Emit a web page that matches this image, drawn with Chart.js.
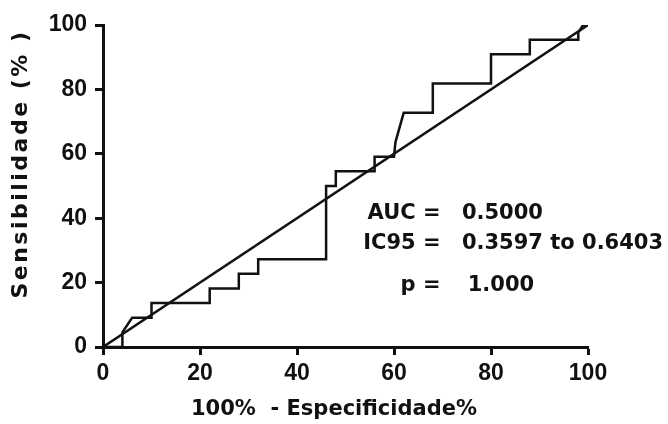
<!DOCTYPE html>
<html>
<head>
<meta charset="utf-8">
<script src="https://cdn.jsdelivr.net/npm/chart.js@4.4.1/dist/chart.umd.min.js"></script>
<style>
  html, body { margin: 0; padding: 0; background: #fff; }
  canvas { display: block; }
</style>
</head>
<body>
<canvas id="rocChart" width="668" height="424"></canvas>
<script>
// ROC curve (100% - specificity vs sensitivity)
const fpr = [0, 4, 4, 6, 10, 10, 22, 22, 28, 28, 32, 32, 46, 46, 48, 48, 56, 56, 60, 60.3, 62, 68, 68, 80, 80, 88, 88, 98, 98, 99, 100];
const sens = [0, 0, 4.55, 9.09, 9.09, 13.64, 13.64, 18.18, 18.18, 22.73, 22.73, 27.27, 27.27, 50, 50, 54.55, 54.55, 59.09, 59.09, 63.64, 72.73, 72.73, 81.82, 81.82, 90.91, 90.91, 95.45, 95.45, 97.7, 100, 100];
const diagX = [0, 100];
const diagY = [0, 100];
const xTicks = [0, 20, 40, 60, 80, 100];
const yTicks = [0, 20, 40, 60, 80, 100];
const xTitle = '100%  - Especificidade%';
const yTitle = 'Sensibilidade (% )';
const statLabels = ['AUC =', 'IC95 =', 'p ='];
const statValues = ['0.5000', '0.3597 to 0.6403', '1.000'];

const ink = '#111';
const tickFont = { family: '"Liberation Sans Narrow", "Arial Narrow", "Liberation Sans", sans-serif', size: 23, weight: 'bold' };

function toPoints(xs, ys) {
    return xs.map((v, i) => ({ x: v, y: ys[i] }));
}

// titles and the AUC box are drawn here so they sit where the original has them
const textPlugin = {
    id: 'rocText',
    afterDraw(chart) {
        const { ctx, scales } = chart;
        const x = scales.x, y = scales.y;
        ctx.save();
        ctx.fillStyle = ink;
        ctx.textBaseline = 'middle';

        ctx.font = 'bold 21px "DejaVu Sans", sans-serif';
        ctx.textAlign = 'center';
        ctx.fillText(xTitle, 334, 410);

        ctx.save();
        ctx.translate(21, 164);
        ctx.rotate(-Math.PI / 2);
        ctx.font = 'bold 22px "DejaVu Sans", sans-serif';
        ctx.letterSpacing = '2.5px';
        ctx.fillText(yTitle, 0, 0);
        ctx.restore();

        // stats block, placed in data units
        const rowY = [41.6, 32, 19];
        const valX = [74, 74, 75.2];
        ctx.font = 'bold 21px "DejaVu Sans", sans-serif';
        statLabels.forEach((lab, i) => {
            ctx.textAlign = 'right';
            ctx.fillText(lab, x.getPixelForValue(69.6), y.getPixelForValue(rowY[i]));
            ctx.textAlign = 'left';
            ctx.fillText(statValues[i], x.getPixelForValue(valX[i]), y.getPixelForValue(rowY[i]));
        });
        ctx.restore();
    }
};

const axisCommon = {
    type: 'linear',
    min: 0,
    max: 100,
    border: { display: true, color: ink, width: 3 },
    grid: {
        display: true,
        drawOnChartArea: false,
        drawTicks: true,
        tickLength: 8,
        tickColor: ink,
        tickWidth: 3,
    },
    title: { display: false },
};

new Chart(document.getElementById('rocChart').getContext('2d'), {
    type: 'line',
    data: {
        datasets: [{
            label: 'ROC',
            data: toPoints(fpr, sens),
            borderColor: ink,
            borderWidth: 2.5,
            pointRadius: 0,
            tension: 0,
            fill: false,
        }, {
            label: 'Referência',
            data: toPoints(diagX, diagY),
            borderColor: ink,
            borderWidth: 2.5,
            pointRadius: 0,
            tension: 0,
            fill: false,
        }]
    },
    options: {
        responsive: false,
        animation: false,
        layout: { padding: { left: 0, right: 80, top: 25, bottom: 0 } },
        plugins: {
            legend: { display: false },
            tooltip: { enabled: false },
        },
        scales: {
            x: {
                ...axisCommon,
                position: 'bottom',
                afterBuildTicks: (scale) => { scale.ticks = xTicks.map(v => ({ value: v })); },
                afterFit: (scale) => { scale.height = 77; },
                ticks: { font: tickFont, color: ink, padding: 5, maxRotation: 0 },
            },
            y: {
                ...axisCommon,
                position: 'left',
                afterBuildTicks: (scale) => { scale.ticks = yTicks.map(v => ({ value: v })); },
                afterFit: (scale) => { scale.width = 103; },
                ticks: { font: tickFont, color: ink, padding: 8 },
            }
        }
    },
    plugins: [textPlugin]
});
</script>
</body>
</html>
